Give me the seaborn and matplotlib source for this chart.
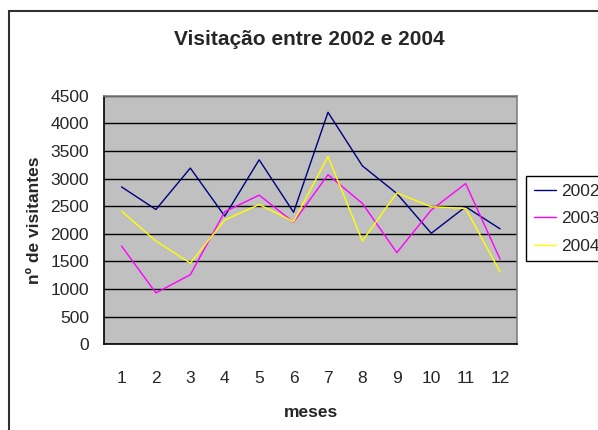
import matplotlib
matplotlib.use("Agg")
import matplotlib.pyplot as plt
from matplotlib.patches import Rectangle
import seaborn as sns
import pandas as pd

meses = list(range(1, 13))
v2002 = [2850, 2440, 3190, 2320, 3340, 2390, 4200, 3230, 2730, 2010, 2490, 2090]
v2003 = [1780, 930, 1260, 2400, 2700, 2210, 3070, 2550, 1660, 2430, 2910, 1540]
v2004 = [2410, 1870, 1470, 2250, 2530, 2220, 3400, 1870, 2740, 2490, 2460, 1310]
anos = ["2002", "2003", "2004"]
cores = ["#000080", "#FF00FF", "#FFFF00"]

df = pd.DataFrame({
    "mes": meses * 3,
    "visitantes": v2002 + v2003 + v2004,
    "ano": [a for a in anos for _ in meses],
})

sns.set_style("white")
plt.rcParams["font.family"] = ["Liberation Sans", "DejaVu Sans"]

fig = plt.figure(figsize=(5.98, 4.30), dpi=100)
ax = fig.add_axes([0.1744, 0.1993, 0.6906, 0.5781])

sns.lineplot(data=df, x="mes", y="visitantes", hue="ano", palette=cores,
             linewidth=1.0, ax=ax, legend=False)

ax.set_facecolor("#C0C0C0")
ax.set_xlim(0.5, 12.5)
ax.set_ylim(0, 4500)
ax.set_yticks(range(0, 4501, 500))
ax.yaxis.grid(True, color="black", linewidth=1.0)
ax.set_axisbelow(True)

# category axis: ticks between bins, labels at centres
ax.set_xticks([m + 0.5 for m in [0] + meses])
ax.set_xticklabels([])
ax.set_xticks(meses, minor=True)
ax.set_xticklabels([str(m) for m in meses], minor=True, fontsize=12.5)
ax.tick_params(axis="x", which="major", length=5, width=1, color="black", direction="out")
ax.tick_params(axis="x", which="minor", length=0, pad=19)
ax.tick_params(axis="y", length=5, width=1, color="black", direction="out", labelsize=12.5, pad=6)

for s in ["left", "bottom"]:
    ax.spines[s].set_color("black")
for s in ["top", "right"]:
    ax.spines[s].set_color("#808080")
for s in ax.spines.values():
    s.set_linewidth(1.2)

ax.set_xlabel("meses", fontsize=12.5, fontweight="bold", labelpad=14)
ax.set_ylabel("nº de visitantes", fontsize=12.5, fontweight="bold", labelpad=6)
fig.text(0.518, 0.907, "Visitação entre 2002 e 2004", ha="center", va="center",
         fontsize=15, fontweight="bold")

handles = [plt.Line2D([], [], color=c, linewidth=1.0) for c in cores]
leg = fig.legend(handles, anos, loc="upper left", bbox_to_anchor=(526 / 598, 1 - 176 / 430),
                 fontsize=12.5, frameon=True, fancybox=False, framealpha=1,
                 handlelength=1.3, handletextpad=0.25, labelspacing=0.7,
                 borderpad=0.45, borderaxespad=0)
leg.get_frame().set_edgecolor("black")
leg.get_frame().set_linewidth(1.0)

fig.patches.append(Rectangle((9 / 598, -0.1), 1.2, 1.1 - 11 / 430, transform=fig.transFigure,
                             fill=False, edgecolor="#303030", linewidth=1.5))

fig.savefig("out.png", dpi=100)
